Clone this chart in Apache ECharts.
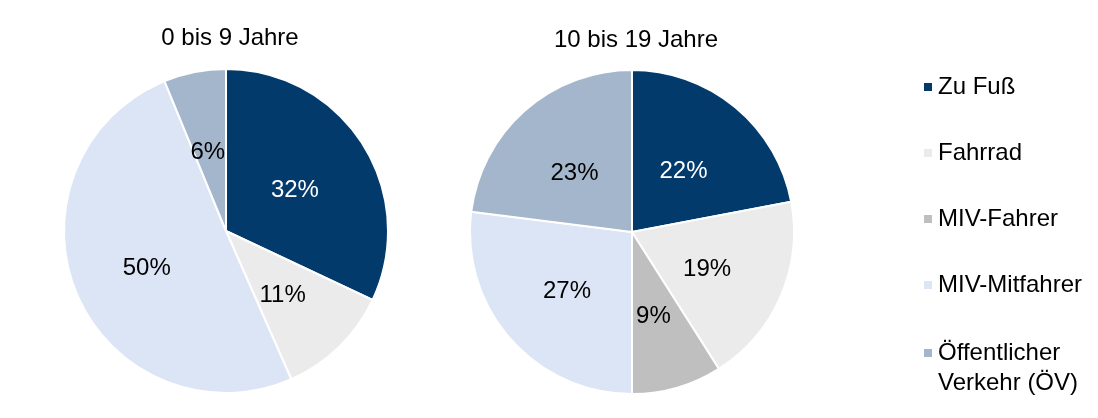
<!DOCTYPE html>
<html>
<head>
<meta charset="utf-8">
<script src="https://cdn.jsdelivr.net/npm/echarts@6/dist/echarts.min.js"></script>
<style>
html,body{margin:0;padding:0;background:#fff;}
#chart{width:1098px;height:418px;}
</style>
</head>
<body>
<div id="chart"></div>
<script>
const categories = ['Zu Fuß', 'Fahrrad', 'MIV-Fahrer', 'MIV-Mitfahrer', 'Öffentlicher Verkehr (ÖV)'];
const colors = ['#023A6B', '#EBEBEB', '#BFBFBF', '#DCE5F5', '#A3B6CB'];
const labelColors = ['#FFFFFF', '#000000', '#000000', '#000000', '#000000'];
const titles = ['0 bis 9 Jahre', '10 bis 19 Jahre'];
const values0to9 = [32, 11.4, 0, 50.4, 6.2];
const values10to19 = [22, 19, 9, 27, 23];

const FONT = 'Liberation Sans, Arial, sans-serif';

function buildData(vals) {
  const out = [];
  vals.forEach((v, i) => {
    if (v > 0) {
      out.push({
        name: categories[i],
        value: v,
        itemStyle: { color: colors[i] },
        label: { color: labelColors[i] }
      });
    }
  });
  return out;
}

function pieSeries(vals, center) {
  return {
    type: 'pie',
    center: center,
    radius: 162,
    startAngle: 90,
    clockwise: true,
    avoidLabelOverlap: false,
    animation: false,
    itemStyle: { borderColor: '#FFFFFF', borderWidth: 2 },
    label: {
      show: true,
      position: 'inner',
      fontFamily: FONT,
      fontSize: 24,
      offset: [-2, 4],
      formatter: p => Math.round(p.value) + '%'
    },
    labelLine: { show: false },
    emphasis: { disabled: true },
    data: buildData(vals)
  };
}

const chart = echarts.init(document.getElementById('chart'), null, { renderer: 'canvas' });
chart.setOption({
  backgroundColor: '#FFFFFF',
  color: colors,
  title: [
    { text: titles[0], left: 225, top: 33, textAlign: 'center', textVerticalAlign: 'middle',
      textStyle: { fontFamily: FONT, fontSize: 24, fontWeight: 'normal', color: '#000' } },
    { text: titles[1], left: 631, top: 35, textAlign: 'center', textVerticalAlign: 'middle',
      textStyle: { fontFamily: FONT, fontSize: 24, fontWeight: 'normal', color: '#000' } }
  ],
  legend: [
    {
      orient: 'vertical', left: 917, top: 67,
      icon: 'rect', itemWidth: 10, itemHeight: 10, itemGap: 36,
      data: categories.slice(0, 4),
      textStyle: { fontFamily: FONT, fontSize: 24, color: '#000', lineHeight: 30 },
      selectedMode: false
    },
    {
      orient: 'vertical', left: 917, top: 303,
      icon: 'rect', itemWidth: 10, itemHeight: 10,
      data: categories.slice(4),
      formatter: () => ' \nÖffentlicher\nVerkehr (ÖV)',
      textStyle: { fontFamily: FONT, fontSize: 24, color: '#000', lineHeight: 30 },
      selectedMode: false
    }
  ],
  series: [
    pieSeries(values0to9, [226, 231]),
    pieSeries(values10to19, [632, 232])
  ]
});
</script>
</body>
</html>
